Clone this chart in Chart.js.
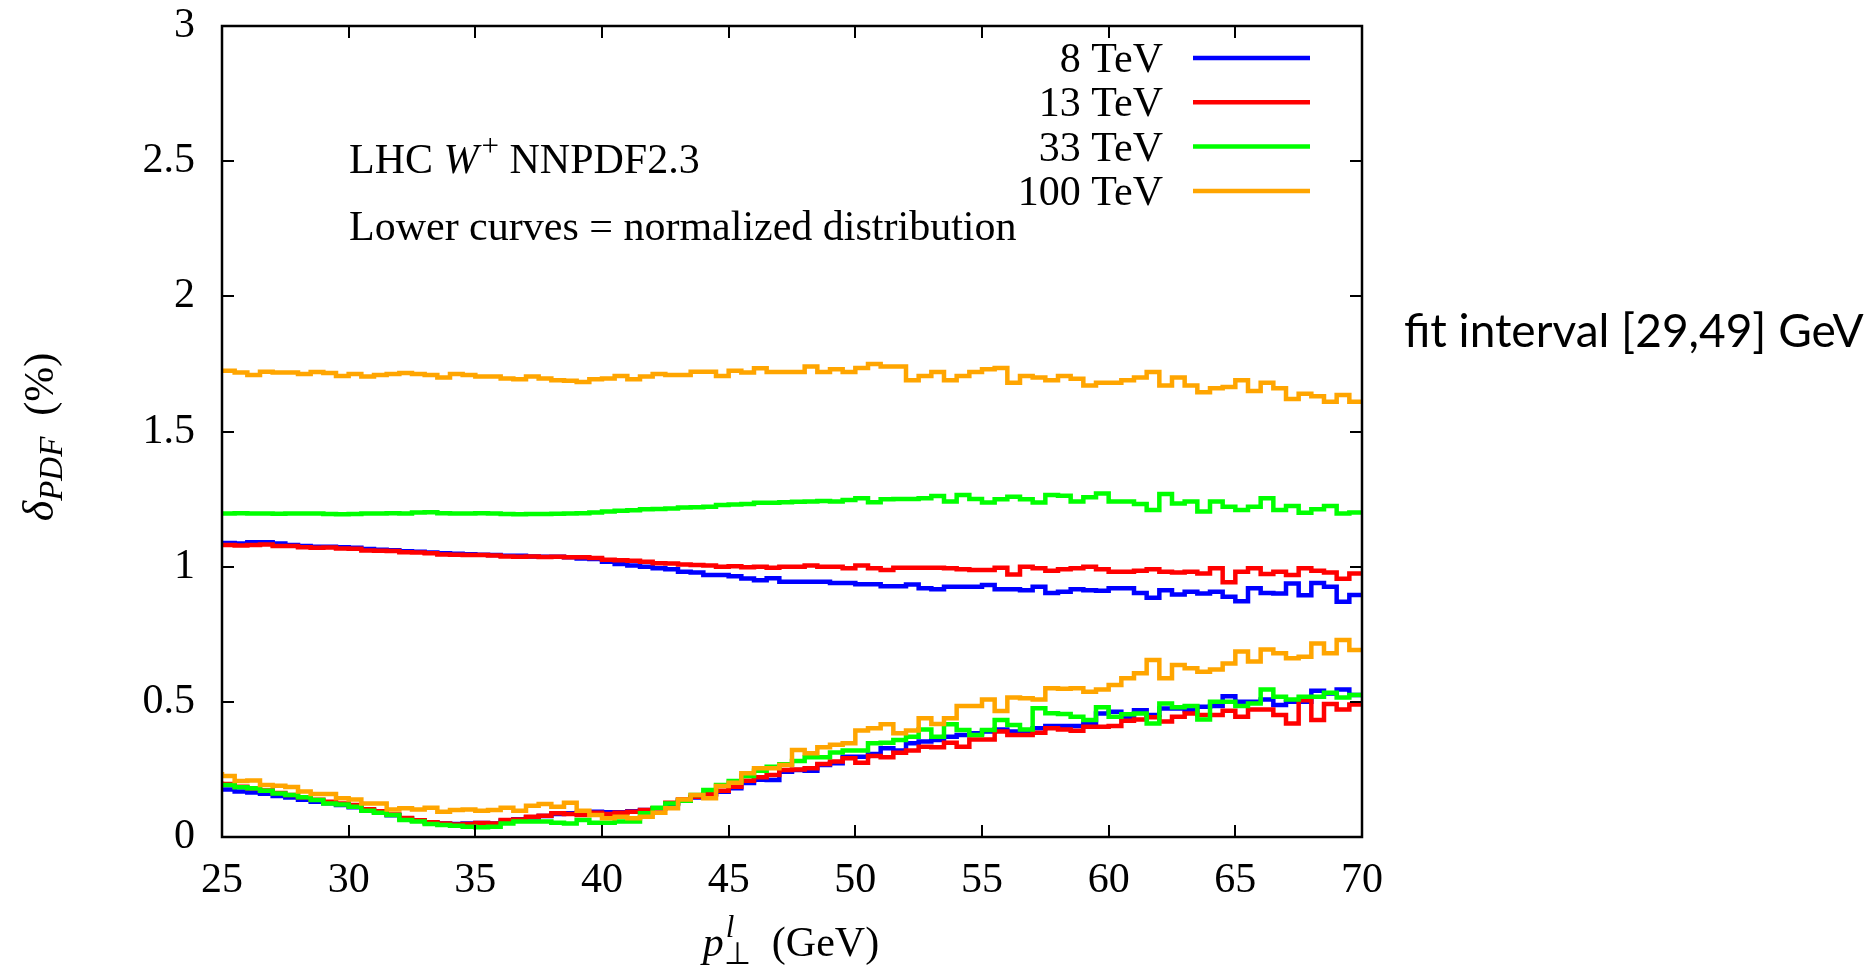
<!DOCTYPE html>
<html>
<head>
<meta charset="utf-8">
<script src="https://cdn.jsdelivr.net/npm/chart.js@4.4.1/dist/chart.umd.min.js"></script>
<style>
html,body{margin:0;padding:0;background:#fff;overflow:hidden}
#wrap{position:relative;width:1872px;height:971px}
</style>
</head>
<body>
<div id="wrap"><canvas id="c" width="1872" height="971"></canvas></div>
<script>
// ---------- DATA ----------
// bin edges in GeV (p_T^l), 0.5 GeV bins from 25 to 70
const binEdges = Array.from({length: 91}, (_, i) => 25 + 0.5 * i);
const xTickValues = [25, 30, 35, 40, 45, 50, 55, 60, 65, 70];
const yTickValues = [0, 0.5, 1, 1.5, 2, 2.5, 3];
const energies = ['8 TeV', '13 TeV', '33 TeV', '100 TeV'];
const colors = ['#0000ff', '#ff0000', '#00ff00', '#ffa500'];

// upper curves: absolute distribution
const up8 = [1.086,1.088,1.086,1.090,1.090,1.086,1.080,1.076,1.074,1.074,
 1.072,1.070,1.065,1.063,1.061,1.057,1.055,1.052,1.050,1.048,
 1.046,1.044,1.043,1.040,1.040,1.038,1.037,1.037,1.035,1.030,
 1.028,1.018,1.010,1.004,1.000,0.994,0.990,0.981,0.978,0.969,
 0.969,0.965,0.956,0.950,0.957,0.944,0.944,0.944,0.944,0.940,
 0.940,0.935,0.935,0.928,0.928,0.934,0.920,0.916,0.926,0.926,
 0.926,0.932,0.916,0.916,0.913,0.926,0.903,0.907,0.916,0.913,
 0.911,0.920,0.920,0.903,0.885,0.913,0.897,0.907,0.901,0.907,
 0.889,0.872,0.920,0.903,0.901,0.938,0.894,0.940,0.926,0.870,
 0.895];
const up13 = [1.080,1.080,1.078,1.080,1.082,1.076,1.076,1.072,1.070,1.071,
 1.067,1.066,1.060,1.059,1.058,1.053,1.052,1.050,1.045,1.044,
 1.043,1.043,1.041,1.038,1.037,1.038,1.036,1.037,1.035,1.035,
 1.032,1.026,1.024,1.022,1.018,1.013,1.012,1.008,1.006,1.004,
 1.000,1.002,0.998,1.000,0.996,1.000,1.000,1.004,1.000,1.000,
 0.994,1.004,0.994,0.988,0.996,0.996,0.996,0.996,0.994,0.990,
 0.988,0.988,0.996,0.971,1.000,0.994,0.985,0.990,0.994,1.000,
 0.990,0.981,0.981,0.985,0.990,0.981,0.978,0.981,0.975,0.994,
 0.942,0.981,0.994,0.973,0.981,0.969,0.994,0.985,0.978,0.955,
 0.975];
const up33 = [1.197,1.197,1.198,1.197,1.197,1.196,1.197,1.197,1.197,1.195,
 1.194,1.195,1.197,1.197,1.198,1.197,1.200,1.201,1.198,1.197,
 1.197,1.198,1.197,1.195,1.194,1.195,1.195,1.196,1.197,1.198,
 1.200,1.204,1.207,1.209,1.212,1.213,1.215,1.219,1.220,1.222,
 1.228,1.230,1.232,1.236,1.236,1.238,1.240,1.241,1.243,1.241,
 1.247,1.253,1.238,1.249,1.250,1.250,1.253,1.261,1.241,1.265,
 1.250,1.237,1.249,1.259,1.249,1.237,1.265,1.262,1.241,1.257,
 1.271,1.241,1.241,1.232,1.210,1.269,1.234,1.241,1.204,1.241,
 1.222,1.210,1.222,1.253,1.210,1.224,1.199,1.212,1.224,1.197,
 1.200];
const up100 = [1.725,1.725,1.718,1.709,1.721,1.718,1.718,1.713,1.720,1.716,
 1.705,1.713,1.703,1.709,1.713,1.716,1.713,1.709,1.700,1.713,
 1.709,1.703,1.703,1.696,1.693,1.703,1.696,1.690,1.688,1.683,
 1.693,1.696,1.705,1.693,1.703,1.713,1.709,1.709,1.721,1.721,
 1.705,1.725,1.718,1.734,1.720,1.720,1.720,1.740,1.720,1.730,
 1.720,1.735,1.750,1.740,1.740,1.690,1.705,1.720,1.690,1.705,
 1.720,1.730,1.735,1.680,1.705,1.700,1.690,1.705,1.695,1.670,
 1.680,1.680,1.690,1.700,1.720,1.670,1.700,1.670,1.645,1.660,
 1.665,1.690,1.650,1.680,1.660,1.620,1.640,1.630,1.610,1.635,
 1.610];

// lower curves: normalized distribution
const low8 = [0.180,0.176,0.168,0.165,0.160,0.152,0.146,0.138,0.130,0.125,
 0.118,0.110,0.100,0.092,0.080,0.068,0.060,0.055,0.050,0.048,
 0.050,0.052,0.050,0.060,0.066,0.072,0.078,0.085,0.088,0.090,
 0.093,0.092,0.092,0.095,0.100,0.106,0.122,0.135,0.146,0.157,
 0.167,0.180,0.200,0.212,0.211,0.241,0.248,0.245,0.266,0.273,
 0.297,0.297,0.307,0.328,0.320,0.347,0.353,0.359,0.371,0.377,
 0.384,0.390,0.398,0.390,0.390,0.402,0.411,0.411,0.411,0.420,
 0.457,0.463,0.443,0.469,0.451,0.475,0.475,0.469,0.482,0.485,
 0.521,0.500,0.500,0.509,0.488,0.500,0.500,0.541,0.531,0.546,
 0.525];
const low13 = [0.205,0.196,0.186,0.180,0.172,0.163,0.155,0.147,0.138,0.130,
 0.124,0.118,0.103,0.095,0.083,0.070,0.062,0.055,0.050,0.046,
 0.048,0.052,0.050,0.063,0.065,0.075,0.079,0.088,0.085,0.081,
 0.090,0.085,0.090,0.093,0.100,0.106,0.127,0.139,0.149,0.159,
 0.171,0.186,0.208,0.221,0.229,0.248,0.250,0.254,0.270,0.279,
 0.291,0.275,0.300,0.295,0.312,0.320,0.334,0.332,0.349,0.334,
 0.361,0.361,0.390,0.377,0.377,0.386,0.402,0.398,0.393,0.408,
 0.408,0.411,0.430,0.435,0.443,0.427,0.445,0.457,0.451,0.451,
 0.467,0.445,0.472,0.472,0.451,0.420,0.506,0.433,0.492,0.472,
 0.490];
const low33 = [0.196,0.192,0.184,0.180,0.171,0.161,0.155,0.147,0.137,0.124,
 0.120,0.112,0.097,0.090,0.081,0.063,0.057,0.048,0.044,0.042,
 0.038,0.036,0.038,0.050,0.057,0.057,0.057,0.053,0.050,0.063,
 0.053,0.053,0.057,0.057,0.088,0.108,0.124,0.134,0.155,0.174,
 0.192,0.207,0.226,0.245,0.260,0.269,0.281,0.295,0.295,0.313,
 0.320,0.320,0.347,0.349,0.359,0.371,0.398,0.371,0.417,0.396,
 0.377,0.396,0.433,0.414,0.398,0.476,0.458,0.455,0.445,0.433,
 0.480,0.445,0.454,0.457,0.420,0.494,0.480,0.485,0.435,0.500,
 0.500,0.485,0.494,0.546,0.519,0.509,0.519,0.519,0.534,0.516,
 0.525];
const low100 = [0.240,0.226,0.207,0.209,0.192,0.190,0.185,0.168,0.159,0.159,
 0.143,0.139,0.124,0.124,0.102,0.106,0.102,0.108,0.093,0.100,
 0.102,0.097,0.100,0.108,0.097,0.116,0.122,0.112,0.127,0.097,
 0.081,0.069,0.075,0.069,0.075,0.090,0.106,0.139,0.155,0.143,
 0.189,0.201,0.236,0.254,0.254,0.266,0.322,0.310,0.332,0.341,
 0.347,0.394,0.402,0.417,0.384,0.394,0.439,0.418,0.439,0.485,
 0.485,0.509,0.466,0.516,0.513,0.509,0.550,0.548,0.550,0.537,
 0.546,0.562,0.587,0.606,0.655,0.587,0.636,0.624,0.611,0.620,
 0.642,0.686,0.649,0.694,0.680,0.661,0.667,0.716,0.680,0.729,
 0.692];

const upperSeries = [up8, up13, up33, up100];
const lowerSeries = [low8, low13, low33, low100];

// ---------- STYLE ----------
const SERIF = '"Liberation Serif", "Times New Roman", serif';
const FS = 42;
Chart.defaults.font.family = SERIF;
Chart.defaults.color = '#000';

const datasets = [];
energies.forEach((e, k) => {
  const common = {
    borderColor: colors[k], backgroundColor: colors[k], borderWidth: 4.5,
    pointRadius: 0, pointHoverRadius: 0, stepped: 'after', fill: false,
    order: 4 - k, borderJoinStyle: 'miter', borderCapStyle: 'butt'
  };
  datasets.push(Object.assign({label: e, data: binEdges.map((x, i) => ({x, y: upperSeries[k][i]}))}, common));
  datasets.push(Object.assign({label: e + ' (normalized)', data: binEdges.map((x, i) => ({x, y: lowerSeries[k][i]}))}, common));
});

function drawParts(ctx, parts, x, y, doDraw) {
  let cx = x, stackW = 0;
  for (const p of parts) {
    ctx.font = p.f;
    const w = ctx.measureText(p.t).width;
    if (doDraw) ctx.fillText(p.t, cx + (p.dx || 0), y + (p.dy || 0));
    if (p.stack) { stackW = w + (p.dx || 0); }
    else { cx += Math.max(w + (p.dx || 0), stackW); stackW = 0; }
  }
  return cx - x;
}

const decor = {
  id: 'decor',
  afterDatasetsDraw(chart) {
    const {ctx, chartArea: a, scales} = chart;
    const xs = scales.x, ys = scales.y;
    ctx.save();
    // frame
    ctx.strokeStyle = '#000';
    ctx.lineWidth = 2.5;
    ctx.strokeRect(a.left, a.top, a.right - a.left, a.bottom - a.top);
    // inward ticks on all four sides
    const L = 12;
    ctx.lineWidth = 2;
    ctx.beginPath();
    xs.ticks.forEach(t => {
      const px = Math.round(xs.getPixelForValue(t.value));
      ctx.moveTo(px, a.bottom); ctx.lineTo(px, a.bottom - L);
      ctx.moveTo(px, a.top); ctx.lineTo(px, a.top + L);
    });
    ys.ticks.forEach(t => {
      const py = Math.round(ys.getPixelForValue(t.value));
      ctx.moveTo(a.left, py); ctx.lineTo(a.left + L, py);
      ctx.moveTo(a.right, py); ctx.lineTo(a.right - L, py);
    });
    ctx.stroke();

    // legend (key at top right inside plot)
    ctx.fillStyle = '#000';
    ctx.textBaseline = 'alphabetic';
    energies.forEach((e, k) => {
      const yy = 58 + k * 44.3;
      ctx.font = FS + 'px ' + SERIF;
      ctx.textAlign = 'right';
      ctx.fillText(e, 1163, yy + 14);
      ctx.strokeStyle = colors[k];
      ctx.lineWidth = 4.5;
      ctx.beginPath();
      ctx.moveTo(1193, yy); ctx.lineTo(1310, yy);
      ctx.stroke();
    });
    ctx.textAlign = 'left';

    // annotations inside plot
    const rm = FS + 'px ' + SERIF, it = 'italic ' + FS + 'px ' + SERIF;
    const rmS = '31px ' + SERIF, itS = 'italic 31px ' + SERIF;
    drawParts(ctx, [
      {t: 'LHC ', f: rm}, {t: 'W', f: it}, {t: '+', f: rmS, dy: -17, dx: 3},
      {t: ' NNPDF2.3', f: rm}
    ], 349, 173, true);
    drawParts(ctx, [{t: 'Lower curves = normalized distribution', f: rm}], 349, 240, true);

    // x-axis title
    const xParts = [
      {t: 'p', f: it}, {t: 'l', f: itS, dy: -19, dx: 2, stack: true}, {t: '\u22A5', f: rmS, dy: 8},
      {t: '  (GeV)', f: rm}
    ];
    const xw = drawParts(ctx, xParts, 0, 0, false);
    drawParts(ctx, xParts, 791 - xw / 2, 956, true);

    // y-axis title (rotated)
    const yParts = [
      {t: '\u03B4', f: 'italic 44px ' + SERIF}, {t: 'PDF', f: 'italic 33px ' + SERIF, dy: 9},
      {t: '  (%)', f: rm}
    ];
    const yw = drawParts(ctx, yParts, 0, 0, false);
    ctx.save();
    ctx.translate(53, 437);
    ctx.rotate(-Math.PI / 2);
    drawParts(ctx, yParts, -yw / 2, 0, true);
    ctx.restore();

    // side note
    ctx.font = '46px Lato, "Open Sans", sans-serif';
    ctx.fillText('fit interval [29,49] GeV', 1404, 347);
    ctx.restore();
  }
};

new Chart(document.getElementById('c'), {
  type: 'line',
  data: {datasets},
  options: {
    responsive: false,
    animation: false,
    devicePixelRatio: 1,
    events: [],
    layout: {padding: {top: 26, right: 510, left: 0, bottom: 0}},
    plugins: {legend: {display: false}, tooltip: {enabled: false}},
    scales: {
      x: {
        type: 'linear', min: 25, max: 70,
        afterBuildTicks: s => { s.ticks = xTickValues.map(v => ({value: v})); },
        afterFit: s => { s.height = 134; s.paddingLeft = 0; s.paddingRight = 0; },
        grid: {display: false, drawTicks: false},
        border: {display: false},
        ticks: {font: {size: FS, family: SERIF}, color: '#000', padding: 19, maxRotation: 0, autoSkip: false,
                callback: v => String(v)}
      },
      y: {
        type: 'linear', min: 0, max: 3,
        afterBuildTicks: s => { s.ticks = yTickValues.map(v => ({value: v})); },
        afterFit: s => { s.width = 222; s.paddingTop = 0; s.paddingBottom = 0; },
        grid: {display: false, drawTicks: false},
        border: {display: false},
        ticks: {font: {size: FS, family: SERIF}, color: '#000', padding: 27, autoSkip: false,
                callback: v => String(v)}
      }
    }
  },
  plugins: [decor]
});
</script>
</body>
</html>
